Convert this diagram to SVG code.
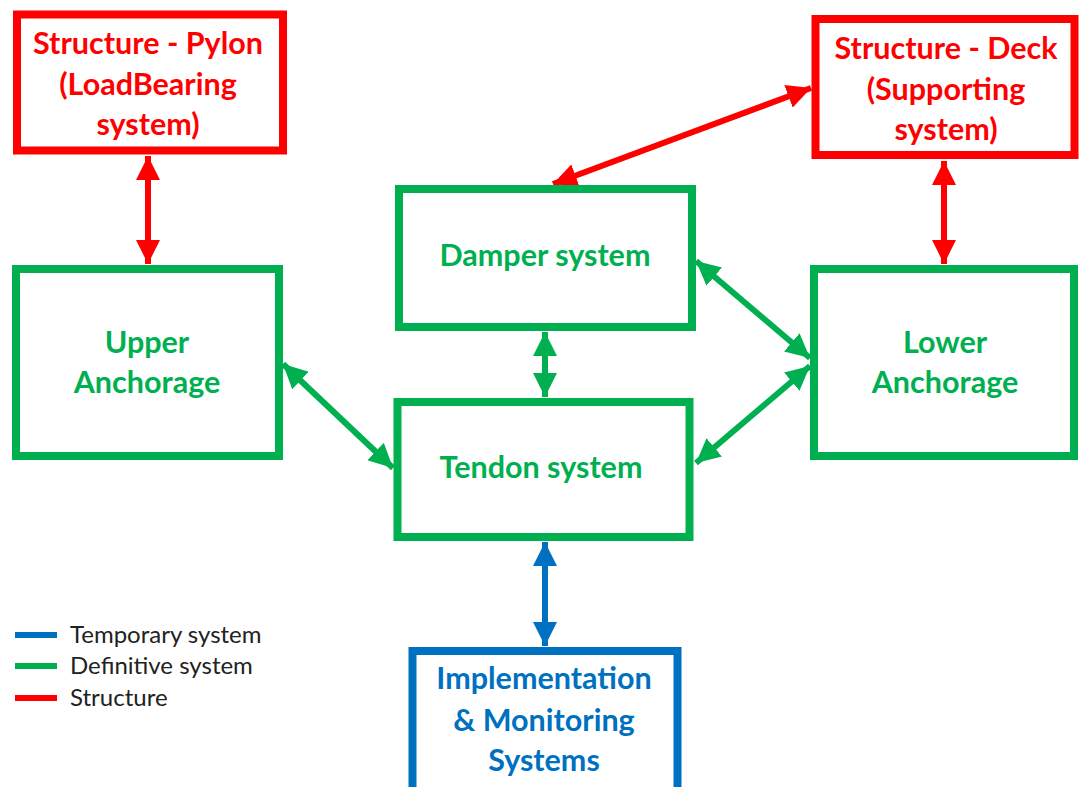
<svg xmlns="http://www.w3.org/2000/svg" width="1079" height="787" viewBox="0 0 1079 787">
  <style>
    .box { fill: #ffffff; stroke-width: 8; }
    .red { stroke: #FF0000; }
    .green { stroke: #00B050; }
    .blue { stroke: #0070C0; }
    .lbl { font-family: Lato, "Liberation Sans", sans-serif; font-weight: bold; font-size: 30.5px; text-anchor: middle; }
    .tr { fill: #FF0000; }
    .tg { fill: #00B050; }
    .tb { fill: #0070C0; }
    .link { stroke-width: 6; fill: none; }
    .legend { font-family: Lato, "Liberation Sans", sans-serif; font-size: 24px; fill: #222222; }
  </style>
  <defs>
    <marker id="ahR" viewBox="0 0 10 10" refX="10" refY="5" markerWidth="4" markerHeight="4" orient="auto-start-reverse" markerUnits="strokeWidth">
      <path d="M0,0 L10,5 L0,10 z" fill="#FF0000"/>
    </marker>
    <marker id="ahG" viewBox="0 0 10 10" refX="10" refY="5" markerWidth="4" markerHeight="4" orient="auto-start-reverse" markerUnits="strokeWidth">
      <path d="M0,0 L10,5 L0,10 z" fill="#00B050"/>
    </marker>
    <marker id="ahB" viewBox="0 0 10 10" refX="10" refY="5" markerWidth="4" markerHeight="4" orient="auto-start-reverse" markerUnits="strokeWidth">
      <path d="M0,0 L10,5 L0,10 z" fill="#0070C0"/>
    </marker>
  </defs>

  <rect width="1079" height="787" fill="#ffffff"/>

  <!-- connectors -->
  <g id="connectors">
    <line class="link red" x1="148" y1="156" x2="148" y2="264" marker-start="url(#ahR)" marker-end="url(#ahR)"/>
    <line class="link red" x1="944" y1="161" x2="944" y2="264" marker-start="url(#ahR)" marker-end="url(#ahR)"/>
    <line class="link red" x1="553" y1="184" x2="811" y2="88" marker-start="url(#ahR)" marker-end="url(#ahR)"/>
    <line class="link green" x1="545" y1="332" x2="545" y2="397" marker-start="url(#ahG)" marker-end="url(#ahG)"/>
    <line class="link green" x1="283" y1="364" x2="393" y2="468" marker-start="url(#ahG)" marker-end="url(#ahG)"/>
    <line class="link green" x1="696" y1="261" x2="810" y2="358" marker-start="url(#ahG)" marker-end="url(#ahG)"/>
    <line class="link green" x1="696" y1="463" x2="810" y2="366" marker-start="url(#ahG)" marker-end="url(#ahG)"/>
    <line class="link blue" x1="545" y1="542" x2="545" y2="646" marker-start="url(#ahB)" marker-end="url(#ahB)"/>
  </g>

  <g id="pylon">
    <rect class="box red" x="17" y="14.5" width="266" height="136"/>
    <text class="lbl tr" x="148" y="54">Structure - Pylon</text>
    <text class="lbl tr" x="148" y="95">(LoadBearing</text>
    <text class="lbl tr" x="148" y="135">system)</text>
  </g>

  <g id="deck">
    <rect class="box red" x="815.5" y="19" width="259" height="136"/>
    <text class="lbl tr" x="946" y="59">Structure - Deck</text>
    <text class="lbl tr" x="946" y="100">(Supporting</text>
    <text class="lbl tr" x="946" y="140">system)</text>
  </g>

  <g id="damper">
    <rect class="box green" x="399" y="189" width="293" height="138"/>
    <text class="lbl tg" x="545" y="266">Damper system</text>
  </g>

  <g id="upper-anchorage">
    <rect class="box green" x="16" y="269" width="263" height="187"/>
    <text class="lbl tg" x="147" y="353">Upper</text>
    <text class="lbl tg" x="147" y="393">Anchorage</text>
  </g>

  <g id="lower-anchorage">
    <rect class="box green" x="814" y="269" width="260" height="187"/>
    <text class="lbl tg" x="945" y="353">Lower</text>
    <text class="lbl tg" x="945" y="393">Anchorage</text>
  </g>

  <g id="tendon">
    <rect class="box green" x="397.5" y="402" width="292" height="135"/>
    <text class="lbl tg" x="541" y="478">Tendon system</text>
  </g>

  <g id="implementation">
    <rect class="box blue" x="412.5" y="651" width="265" height="145"/>
    <text class="lbl tb" x="544" y="689">Implementation</text>
    <text class="lbl tb" x="544" y="731">&amp; Monitoring</text>
    <text class="lbl tb" x="544" y="771">Systems</text>
  </g>

  <g id="legend">
    <line x1="15" y1="635" x2="57" y2="635" stroke="#0070C0" stroke-width="6"/>
    <line x1="15" y1="666" x2="57" y2="666" stroke="#00B050" stroke-width="6"/>
    <line x1="15" y1="698" x2="57" y2="698" stroke="#FF0000" stroke-width="6"/>
    <text class="legend" x="70" y="643">Temporary system</text>
    <text class="legend" x="70" y="674">Definitive system</text>
    <text class="legend" x="70" y="706">Structure</text>
  </g>
</svg>
